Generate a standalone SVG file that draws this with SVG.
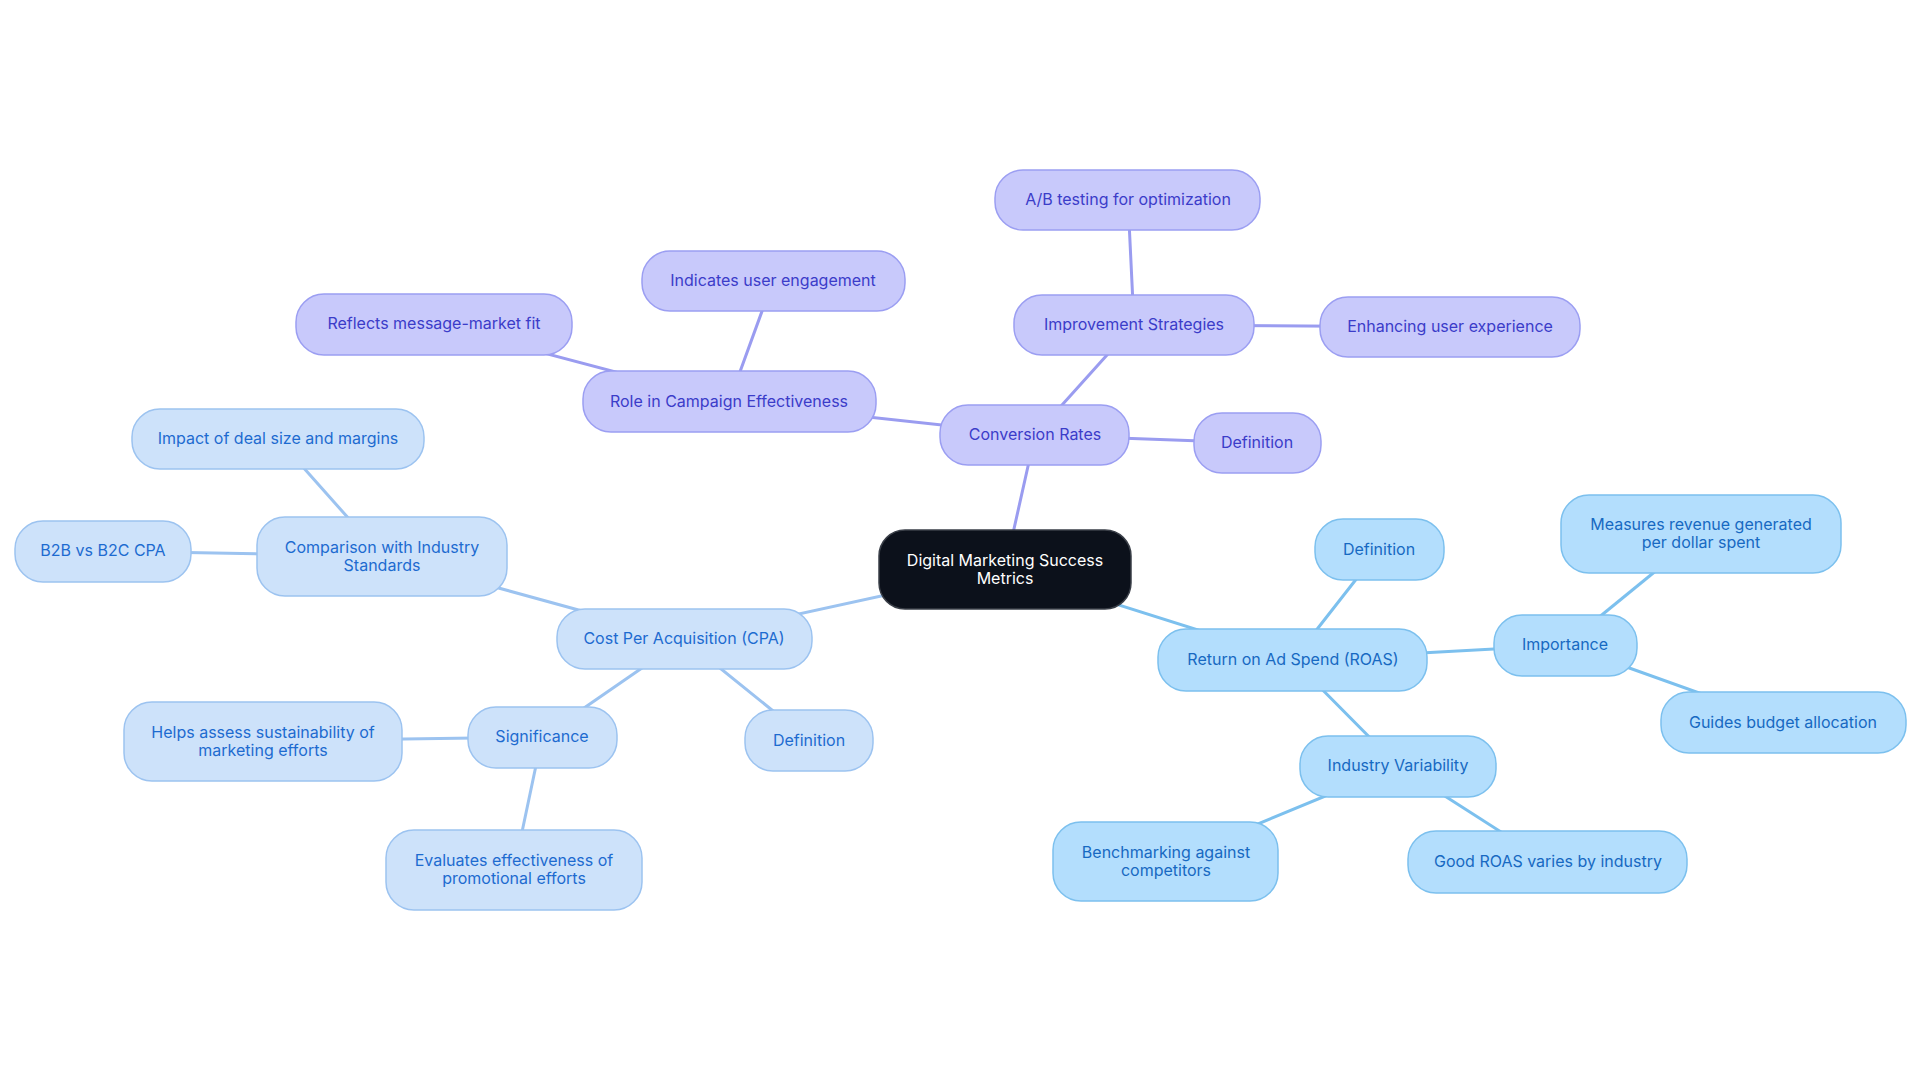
<svg xmlns="http://www.w3.org/2000/svg" width="1920" height="1083" viewBox="0 0 1920 1083">
<style>
text{font-family:Inter,"Liberation Sans",sans-serif;font-size:16px;text-anchor:middle}
.p rect{fill:#c8c9fb;stroke:#9b9ef2;stroke-width:1.5}
.p text{fill:#3b3cc9}
.b rect{fill:#cde2fa;stroke:#9cc3f0;stroke-width:1.5}
.b text{fill:#1d6bd0}
.c rect{fill:#b3defd;stroke:#7cc0ee;stroke-width:1.5}
.c text{fill:#1769c2}
.root rect{fill:#0c111b;stroke:#3a3f48;stroke-width:1.5}
.root text{fill:#ffffff}
#edges line{stroke-width:3;stroke-linecap:round}
.ep{stroke:#9a9cf0}
.eb{stroke:#9cc3f0}
.ec{stroke:#7cc0ee}
</style>
<rect width="1920" height="1083" fill="#ffffff"/>
<g id="edges">
<line class="ep" x1="1005" y1="569" x2="1035" y2="435"/>
<line class="eb" x1="1005" y1="569" x2="684" y2="639"/>
<line class="ec" x1="1005" y1="569" x2="1293" y2="660"/>
<line class="ep" x1="1035" y1="435" x2="1134" y2="325"/>
<line class="ep" x1="1035" y1="435" x2="1257" y2="443"/>
<line class="ep" x1="1035" y1="435" x2="729" y2="402"/>
<line class="ep" x1="1134" y1="325" x2="1128" y2="200"/>
<line class="ep" x1="1134" y1="325" x2="1450" y2="327"/>
<line class="ep" x1="729" y1="402" x2="773" y2="281"/>
<line class="ep" x1="729" y1="402" x2="434" y2="324"/>
<line class="eb" x1="684" y1="639" x2="382" y2="556"/>
<line class="eb" x1="684" y1="639" x2="542" y2="737"/>
<line class="eb" x1="684" y1="639" x2="809" y2="740"/>
<line class="eb" x1="382" y1="556" x2="278" y2="439"/>
<line class="eb" x1="382" y1="556" x2="103" y2="551"/>
<line class="eb" x1="542" y1="737" x2="263" y2="741"/>
<line class="eb" x1="542" y1="737" x2="514" y2="870"/>
<line class="ec" x1="1293" y1="660" x2="1379" y2="550"/>
<line class="ec" x1="1293" y1="660" x2="1565" y2="645"/>
<line class="ec" x1="1293" y1="660" x2="1398" y2="766"/>
<line class="ec" x1="1565" y1="645" x2="1701" y2="534"/>
<line class="ec" x1="1565" y1="645" x2="1783" y2="723"/>
<line class="ec" x1="1398" y1="766" x2="1166" y2="862"/>
<line class="ec" x1="1398" y1="766" x2="1548" y2="862"/>
</g>
<g id="root" class="root"><rect x="879" y="530" width="252" height="79" rx="26"/><text x="1005" y="566">Digital Marketing Success</text><text x="1005" y="584">Metrics</text></g>
<g id="conversion-rates" class="p"><rect x="940" y="405" width="189" height="60" rx="28"/><text x="1035" y="440">Conversion Rates</text></g>
<g id="cr-definition" class="p"><rect x="1194" y="413" width="127" height="60" rx="28"/><text x="1257" y="448">Definition</text></g>
<g id="improvement" class="p"><rect x="1014" y="295" width="240" height="60" rx="28"/><text x="1134" y="330">Improvement Strategies</text></g>
<g id="ab-testing" class="p"><rect x="995" y="170" width="265" height="60" rx="28"/><text x="1128" y="205">A/B testing for optimization</text></g>
<g id="enhancing" class="p"><rect x="1320" y="297" width="260" height="60" rx="28"/><text x="1450" y="332">Enhancing user experience</text></g>
<g id="role" class="p"><rect x="583" y="371" width="293" height="61" rx="28"/><text x="729" y="407">Role in Campaign Effectiveness</text></g>
<g id="indicates" class="p"><rect x="642" y="251" width="263" height="60" rx="28"/><text x="773" y="286">Indicates user engagement</text></g>
<g id="reflects" class="p"><rect x="296" y="294" width="276" height="61" rx="28"/><text x="434" y="329">Reflects message-market fit</text></g>
<g id="cpa" class="b"><rect x="557" y="609" width="255" height="60" rx="28"/><text x="684" y="644">Cost Per Acquisition (CPA)</text></g>
<g id="cpa-definition" class="b"><rect x="745" y="710" width="128" height="61" rx="28"/><text x="809" y="746">Definition</text></g>
<g id="significance" class="b"><rect x="468" y="707" width="149" height="61" rx="28"/><text x="542" y="742">Significance</text></g>
<g id="comparison" class="b"><rect x="257" y="517" width="250" height="79" rx="28"/><text x="382" y="553">Comparison with Industry</text><text x="382" y="571">Standards</text></g>
<g id="impact" class="b"><rect x="132" y="409" width="292" height="60" rx="28"/><text x="278" y="444">Impact of deal size and margins</text></g>
<g id="b2b" class="b"><rect x="15" y="521" width="176" height="61" rx="28"/><text x="103" y="556">B2B vs B2C CPA</text></g>
<g id="helps" class="b"><rect x="124" y="702" width="278" height="79" rx="28"/><text x="263" y="738">Helps assess sustainability of</text><text x="263" y="756">marketing efforts</text></g>
<g id="evaluates" class="b"><rect x="386" y="830" width="256" height="80" rx="28"/><text x="514" y="866">Evaluates effectiveness of</text><text x="514" y="884">promotional efforts</text></g>
<g id="roas" class="c"><rect x="1158" y="629" width="269" height="62" rx="28"/><text x="1293" y="665">Return on Ad Spend (ROAS)</text></g>
<g id="roas-definition" class="c"><rect x="1315" y="519" width="129" height="61" rx="28"/><text x="1379" y="555">Definition</text></g>
<g id="importance" class="c"><rect x="1494" y="615" width="143" height="61" rx="28"/><text x="1565" y="650">Importance</text></g>
<g id="measures" class="c"><rect x="1561" y="495" width="280" height="78" rx="28"/><text x="1701" y="530">Measures revenue generated</text><text x="1701" y="548">per dollar spent</text></g>
<g id="guides" class="c"><rect x="1661" y="692" width="245" height="61" rx="28"/><text x="1783" y="728">Guides budget allocation</text></g>
<g id="industry-variability" class="c"><rect x="1300" y="736" width="196" height="61" rx="28"/><text x="1398" y="771">Industry Variability</text></g>
<g id="benchmarking" class="c"><rect x="1053" y="822" width="225" height="79" rx="28"/><text x="1166" y="858">Benchmarking against</text><text x="1166" y="876">competitors</text></g>
<g id="good-roas" class="c"><rect x="1408" y="831" width="279" height="62" rx="28"/><text x="1548" y="867">Good ROAS varies by industry</text></g>
</svg>
